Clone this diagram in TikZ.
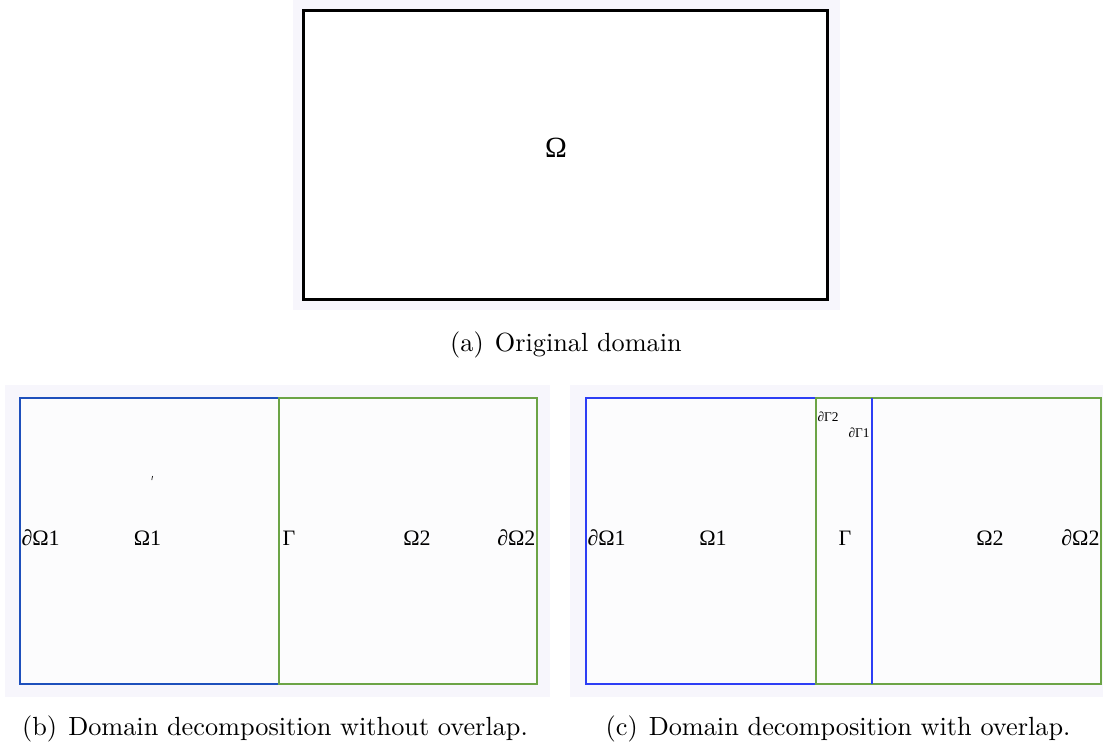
\documentclass[tikz,border=0pt]{standalone}
\usepackage{fontspec}
\newfontfamily\labelfont{Liberation Serif}
\newfontfamily\capfont{lmroman10-regular.otf}
\usepackage{tikz}
\tikzset{every picture/.style={line width=0.75pt}}
\definecolor{panelbg}{RGB}{247,246,252}
\definecolor{panelfill}{RGB}{252,252,253}
\definecolor{darkblue}{RGB}{30,80,188}
\definecolor{brightblue}{RGB}{45,62,245}
\definecolor{subgreen}{RGB}{108,164,70}
\tikzset{
  domlabel/.style={anchor=base, inner sep=0pt, font=\labelfont\fontsize{16.5}{18}\selectfont},
  smalllabel/.style={anchor=base west, inner sep=0pt, font=\labelfont\fontsize{10}{12}\selectfont},
  captext/.style={anchor=base, inner sep=0pt, font=\capfont\fontsize{19.7}{23}\selectfont},
}

\begin{document}
\begin{tikzpicture}[x=0.75pt,y=0.75pt,yscale=-1,xscale=1]
\useasboundingbox (0,0) rectangle (1103,747);

%Shape: panel backgrounds
\fill [panelbg] (293,0) rectangle (840,310);
\fill [panelbg] (5,385) rectangle (550,697);
\fill [panelbg] (570,385) rectangle (1103,697);

%Shape: Rectangle (a)
\draw [fill=white, line width=2.25pt]  (303,10) rectangle (827,299);

%Shape: Rectangle (b) left
\draw [darkblue, fill=panelfill, line width=1.5pt]  (20,398) rectangle (279,684);
%Shape: Rectangle (b) right
\draw [subgreen, fill=panelfill, line width=1.5pt]  (279,398) rectangle (537,684);
%Straight Lines (b) stray mark
\draw [line width=0.5pt]  (152.5,476) -- (151.8,480);

%Shape: Rectangle (c) left
\draw [brightblue, fill=panelfill, line width=1.1pt]  (586,398) rectangle (872,684);
%Shape: Rectangle (c) right
\draw [subgreen, fill=panelfill, line width=1.5pt]  (816,398) rectangle (1101,684);
%Straight Lines (c) blue edge on top
\draw [brightblue, line width=1.1pt]  (872,398) -- (872,684);

% Text Node
\node [domlabel, font=\labelfont\fontsize{22}{24}\selectfont] (omega) at (556,157) {Ω};
% Text Node
\node [captext] (capa) at (566,351) {(a)\hspace{8.3pt}Original domain};

% Text Node
\node [domlabel, anchor=base west] (bdomone) at (21,545) {∂Ω1};
% Text Node
\node [domlabel] (domone) at (147.5,545) {Ω1};
% Text Node
\node [domlabel, anchor=base west] (gamma) at (282,545) {Γ};
% Text Node
\node [domlabel] (domtwo) at (417,545) {Ω2};
% Text Node
\node [domlabel, anchor=base east] (bdomtwo) at (536,545) {∂Ω2};
% Text Node
\node [captext] (capb) at (275,735) {(b)\hspace{8.3pt}Domain decomposition without overlap.};

% Text Node
\node [domlabel, anchor=base west] (obdomone) at (587,545) {∂Ω1};
% Text Node
\node [domlabel] (odomone) at (713,545) {Ω1};
% Text Node
\node [domlabel] (ogamma) at (845,545) {Γ};
% Text Node
\node [domlabel] (odomtwo) at (990,545) {Ω2};
% Text Node
\node [domlabel, anchor=base east] (obdomtwo) at (1100,545) {∂Ω2};
% Text Node
\node [smalllabel] (bgammatwo) at (817,421) {∂Γ2};
% Text Node
\node [smalllabel] (bgammaone) at (848,437) {∂Γ1};
% Text Node
\node [captext] (capc) at (838,735) {(c)\hspace{8.3pt}Domain decomposition with overlap.};

\end{tikzpicture}
\end{document}
